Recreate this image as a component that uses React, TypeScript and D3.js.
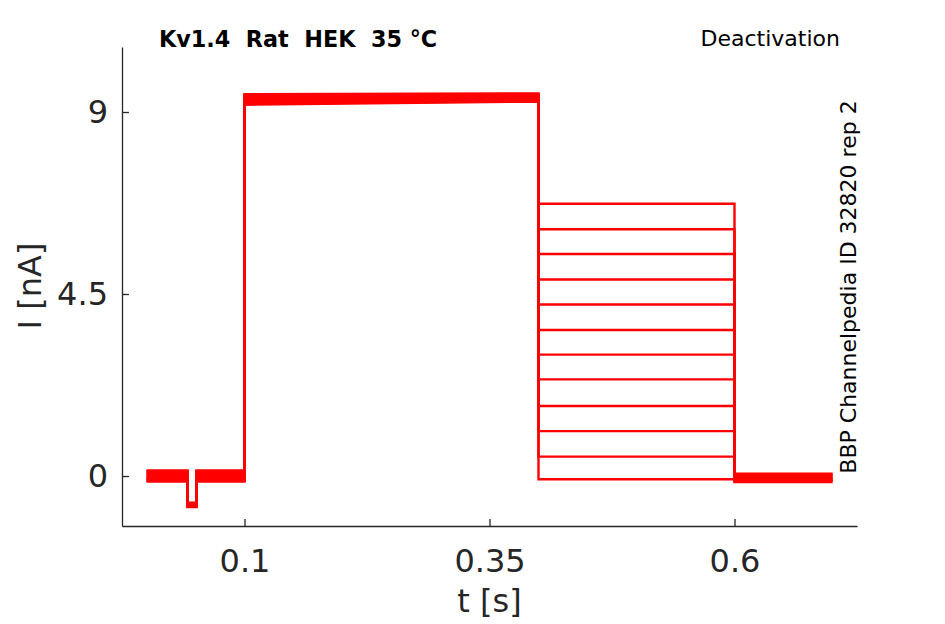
import * as d3 from "d3"
import { useEffect, useRef } from "react"

// protocol break points (s): start, dip on, dip off, step on, tail on, tail off, end
const protocolTimes = [0, 0.042, 0.051, 0.1, 0.4, 0.6, 0.7]

// per-sweep current levels (nA)
const baseLevels = [0.12, -0.1, 0.05, -0.14, 0.09, -0.03, 0.14, -0.07, 0.0, -0.12, 0.07, -0.05]
const dipLevels = [-0.7, -0.74, -0.68, -0.76, -0.71, -0.73, -0.66, -0.75, -0.69, -0.72, -0.77, -0.7]
const peakStart = [9.42, 9.2, 9.35, 9.27, 9.44, 9.18, 9.31, 9.39, 9.23, 9.33, 9.29, 9.37]
const peakEnd = [9.44, 9.27, 9.4, 9.31, 9.46, 9.26, 9.36, 9.42, 9.29, 9.38, 9.34, 9.41]
const tailLevels = [6.73, 6.1, 5.49, 4.86, 4.24, 3.61, 3.0, 2.39, 1.73, 1.11, 0.48, -0.08]
const endLevels = [0.04, -0.13, -0.02, -0.1, 0.06, -0.08, -0.15, 0.01, -0.06, -0.11, 0.03, -0.04]

const xTicks = [0.1, 0.35, 0.6]
const yTicks = [0, 4.5, 9]
const xDomain = [-0.025, 0.725]
const yDomain = [-1.236, 10.607]

const title = "Kv1.4  Rat  HEK  35 °C"
const protocolName = "Deactivation"
const sourceLabel = "BBP Channelpedia ID 32820 rep 2"

export default function App() {
    const svgRef = useRef<SVGSVGElement>(null)

    useEffect(() => {
        if (!svgRef.current) return
        const svg = d3.select(svgRef.current)
        svg.selectAll("*").remove()

        const width = 945
        const height = 624
        const plot = { left: 122, right: 857, top: 47, bottom: 526 }
        const font = "DejaVu Sans"
        const axisColor = "#262626"

        const x = d3.scaleLinear().domain(xDomain).range([plot.left, plot.right])
        const y = d3.scaleLinear().domain(yDomain).range([plot.bottom, plot.top])

        const [t0, t1, t2, t3, t4, t5, t6] = protocolTimes
        const sweeps = tailLevels.map((tail, i) => [
            [t0, baseLevels[i]],
            [t1, baseLevels[i]],
            [t1, dipLevels[i]],
            [t2, dipLevels[i]],
            [t2, baseLevels[i]],
            [t3, baseLevels[i]],
            [t3, peakStart[i]],
            [t4, peakEnd[i]],
            [t4, tail],
            [t5, tail],
            [t5, endLevels[i]],
            [t6, endLevels[i]],
        ] as [number, number][])

        const line = d3
            .line<[number, number]>()
            .x((d) => x(d[0]))
            .y((d) => y(d[1]))

        svg.append("rect").attr("width", width).attr("height", height).attr("fill", "#fff")

        // traces
        svg
            .append("g")
            .selectAll("path")
            .data(sweeps)
            .join("path")
            .attr("fill", "none")
            .attr("stroke", "#ff0000")
            .attr("stroke-width", 2.4)
            .attr("stroke-linejoin", "miter")
            .attr("d", line)

        // X axis
        const gx = svg
            .append("g")
            .attr("transform", `translate(0,${plot.bottom})`)
            .call(
                d3
                    .axisBottom(x)
                    .tickValues(xTicks)
                    .tickSizeInner(-7)
                    .tickSizeOuter(0)
                    .tickPadding(23)
                    .tickFormat((d) => String(d)),
            )

        // Y axis
        const gy = svg
            .append("g")
            .attr("transform", `translate(${plot.left},0)`)
            .call(
                d3
                    .axisLeft(y)
                    .tickValues(yTicks)
                    .tickSizeInner(-7)
                    .tickSizeOuter(0)
                    .tickPadding(14)
                    .tickFormat((d) => String(d)),
            )

        for (const g of [gx, gy]) {
            g.select(".domain").attr("stroke", axisColor).attr("stroke-width", 1.3)
            g.selectAll(".tick line").attr("stroke", axisColor).attr("stroke-width", 1.3)
            g.selectAll(".tick text")
                .attr("fill", axisColor)
                .style("font-family", font)
                .style("font-size", "32px")
        }

        // axis labels
        svg
            .append("text")
            .attr("x", (plot.left + plot.right) / 2)
            .attr("y", 612)
            .attr("text-anchor", "middle")
            .attr("fill", axisColor)
            .style("font-family", font)
            .style("font-size", "32px")
            .text("t [s]")

        svg
            .append("text")
            .attr("transform", `translate(41,286) rotate(-90)`)
            .attr("text-anchor", "middle")
            .attr("fill", axisColor)
            .style("font-family", font)
            .style("font-size", "32px")
            .text("I [nA]")

        // annotations
        svg
            .append("text")
            .attr("x", 159)
            .attr("y", 47)
            .attr("fill", "#000")
            .style("font-family", font)
            .style("font-size", "22.3px")
            .style("font-weight", "bold")
            .style("white-space", "pre")
            .text(title)

        svg
            .append("text")
            .attr("x", 840)
            .attr("y", 46)
            .attr("text-anchor", "end")
            .attr("fill", "#000")
            .style("font-family", font)
            .style("font-size", "22px")
            .text(protocolName)

        svg
            .append("text")
            .attr("transform", `translate(856,287) rotate(-90)`)
            .attr("text-anchor", "middle")
            .attr("fill", "#000")
            .style("font-family", font)
            .style("font-size", "22px")
            .text(sourceLabel)
    }, [])

    return (
        <div style={{ position: "absolute", left: 0, top: 0 }}>
            <svg ref={svgRef} width={945} height={624} viewBox="0 0 945 624" />
        </div>
    )
}
